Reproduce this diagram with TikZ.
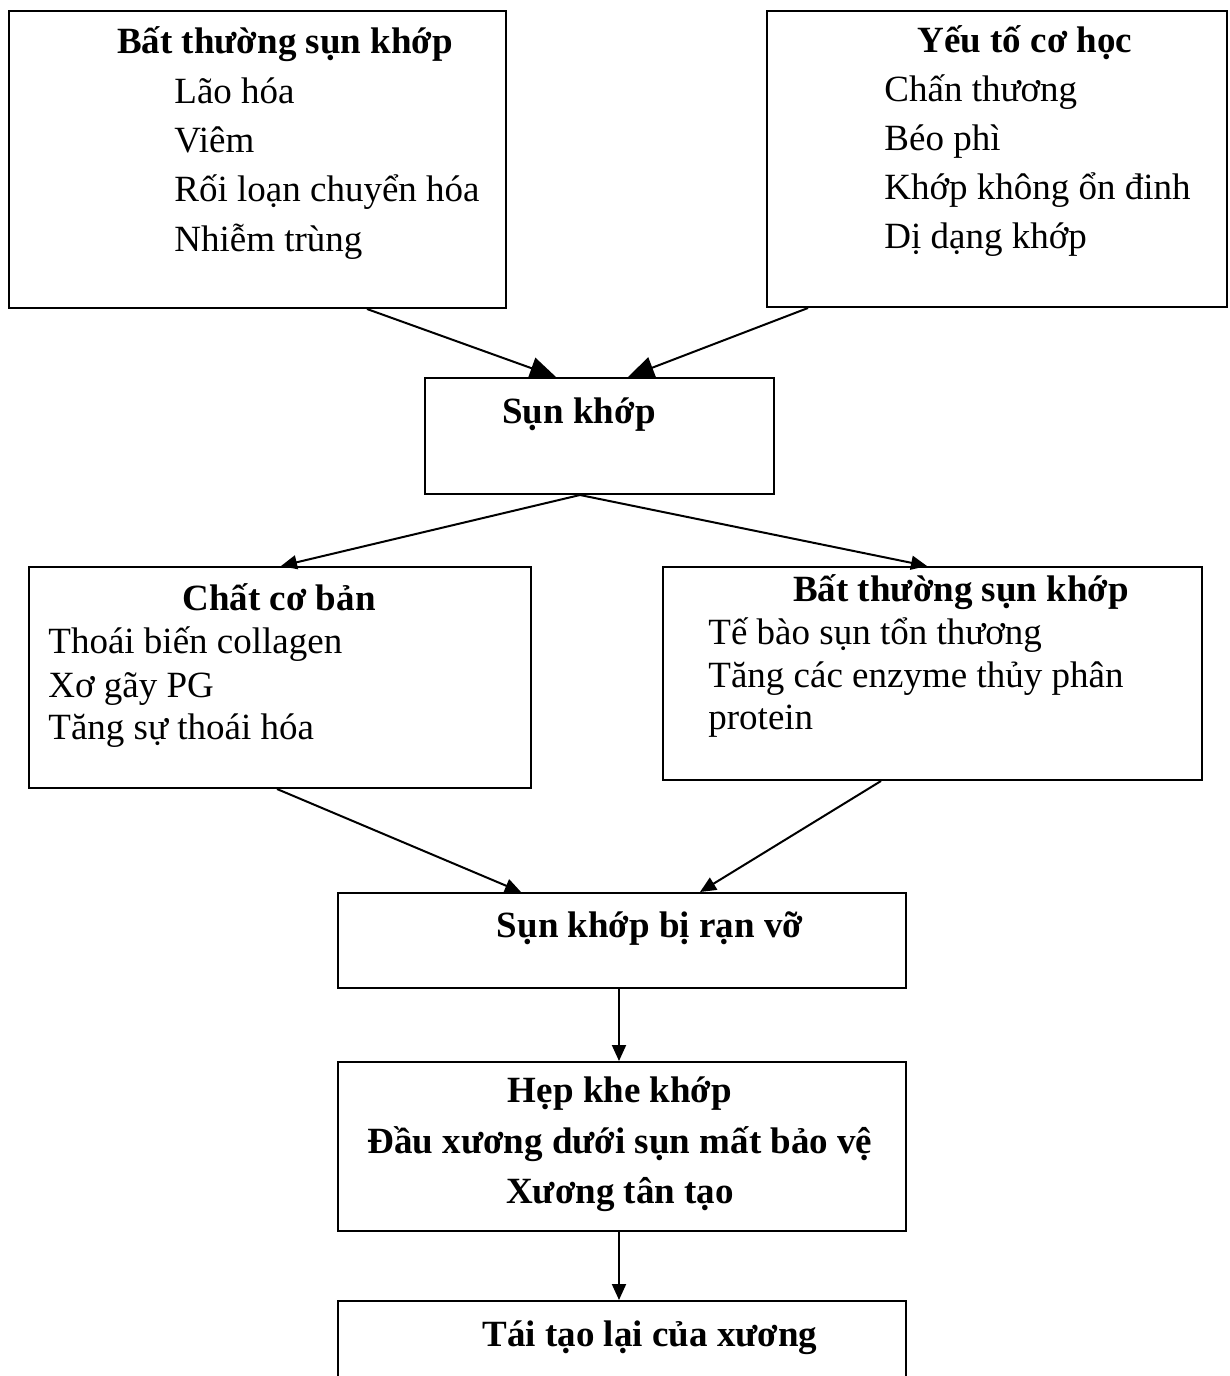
\documentclass[tikz,border=0pt]{standalone}
\usepackage{fontspec}
\setmainfont{Liberation Serif}
\usetikzlibrary{arrows.meta,calc}

\tikzset{
	plain/.style={font=\fontsize{18.5}{22}\selectfont},
	box/.style={draw, line width=1pt, anchor=north west, inner sep=0pt},
	head/.style={font=\fontsize{18.5}{22}\selectfont\bfseries, anchor=base, inner sep=0pt},
	item/.style={plain, anchor=base west, inner sep=0pt},
	link/.style={line width=1pt, -{Triangle[length=8pt,width=7pt]}},
	biglink/.style={line width=1pt, -{Triangle[length=13pt,width=11pt]}}
}

\begin{document}
\begin{tikzpicture}[x=0.5pt, y=-0.5pt]

	\useasboundingbox (0,0) rectangle (1230,1376);

	% boxes
	\node[box, minimum width=248.5pt, minimum height=148.5pt] (batA) at (8,10) {};
	\node[box, minimum width=230pt, minimum height=148pt] (yeuto) at (766,10) {};
	\node[box, minimum width=174.5pt, minimum height=58pt] (sun) at (424,377) {};
	\node[box, minimum width=251pt, minimum height=110.5pt] (chat) at (28,566) {};
	\node[box, minimum width=269.5pt, minimum height=106.5pt] (batB) at (662,566) {};
	\node[box, minimum width=284pt, minimum height=47.5pt] (ranvo) at (337,892) {};
	\node[box, minimum width=284pt, minimum height=84.5pt] (hep) at (337,1061) {};
	\node[box, minimum width=284pt, minimum height=45pt] (taitao) at (337,1300) {};

	% texts
	\node[head] (batA-h) at (285,54) {Bất thường sụn khớp};
	\node[item] (batA-1) at (174,103) {Lão hóa};
	\node[item] (batA-2) at (174,152) {Viêm};
	\node[item] (batA-3) at (174,201) {Rối loạn chuyển hóa};
	\node[item] (batA-4) at (174,251) {Nhiễm trùng};

	\node[head] (yeuto-h) at (1025,53) {Yếu tố cơ học};
	\node[item] (yeuto-1) at (884,101) {Chấn thương};
	\node[item] (yeuto-2) at (884,150) {Béo phì};
	\node[item] (yeuto-3) at (884,199) {Khớp không ổn đinh};
	\node[item] (yeuto-4) at (884,248) {Dị dạng khớp};

	\node[head] (sun-h) at (579,423) {Sụn khớp};

	\node[head] (chat-h) at (279,610) {Chất cơ bản};
	\node[item] (chat-1) at (48,653) {Thoái biến collagen};
	\node[item] (chat-2) at (48,697) {Xơ gãy PG};
	\node[item] (chat-3) at (48,739) {Tăng sự thoái hóa};

	\node[head] (batB-h) at (961,601) {Bất thường sụn khớp};
	\node[item] (batB-1) at (708,644) {Tế bào sụn tổn thương};
	\node[item] (batB-2) at (708,687) {Tăng các enzyme thủy phân};
	\node[item] (batB-3) at (708,729) {protein};

	\node[head] (ranvo-h) at (650,937) {Sụn khớp bị rạn vỡ};

	\node[head] (hep-1) at (620,1102) {Hẹp khe khớp};
	\node[head] (hep-2) at (620,1153) {Đầu xương dưới sụn mất bảo vệ};
	\node[head] (hep-3) at (620,1203) {Xương tân tạo};

	\node[head] (taitao-h) at (650,1346) {Tái tạo lại của xương};

	% arrows
	\draw[biglink] ($(batA.south west)+(359,0)$) -- ($(sun.north west)+(132,0)$);
	\draw[biglink] ($(yeuto.south west)+(42,0)$) -- ($(sun.north west)+(204,0)$);
	\draw[link] ($(sun.south west)+(156,0)$) -- ($(chat.north west)+(253,0)$);
	\draw[link] ($(sun.south west)+(156,0)$) -- ($(batB.north west)+(265,0)$);
	\draw[link] ($(chat.south west)+(249,0)$) -- ($(ranvo.north west)+(184,0)$);
	\draw[link] ($(batB.south west)+(219,0)$) -- ($(ranvo.north west)+(363,0)$);
	\draw[link] ($(ranvo.south west)+(282,0)$) -- ($(hep.north west)+(282,0)$);
	\draw[link] ($(hep.south west)+(282,0)$) -- ($(taitao.north west)+(282,0)$);

\end{tikzpicture}
\end{document}
